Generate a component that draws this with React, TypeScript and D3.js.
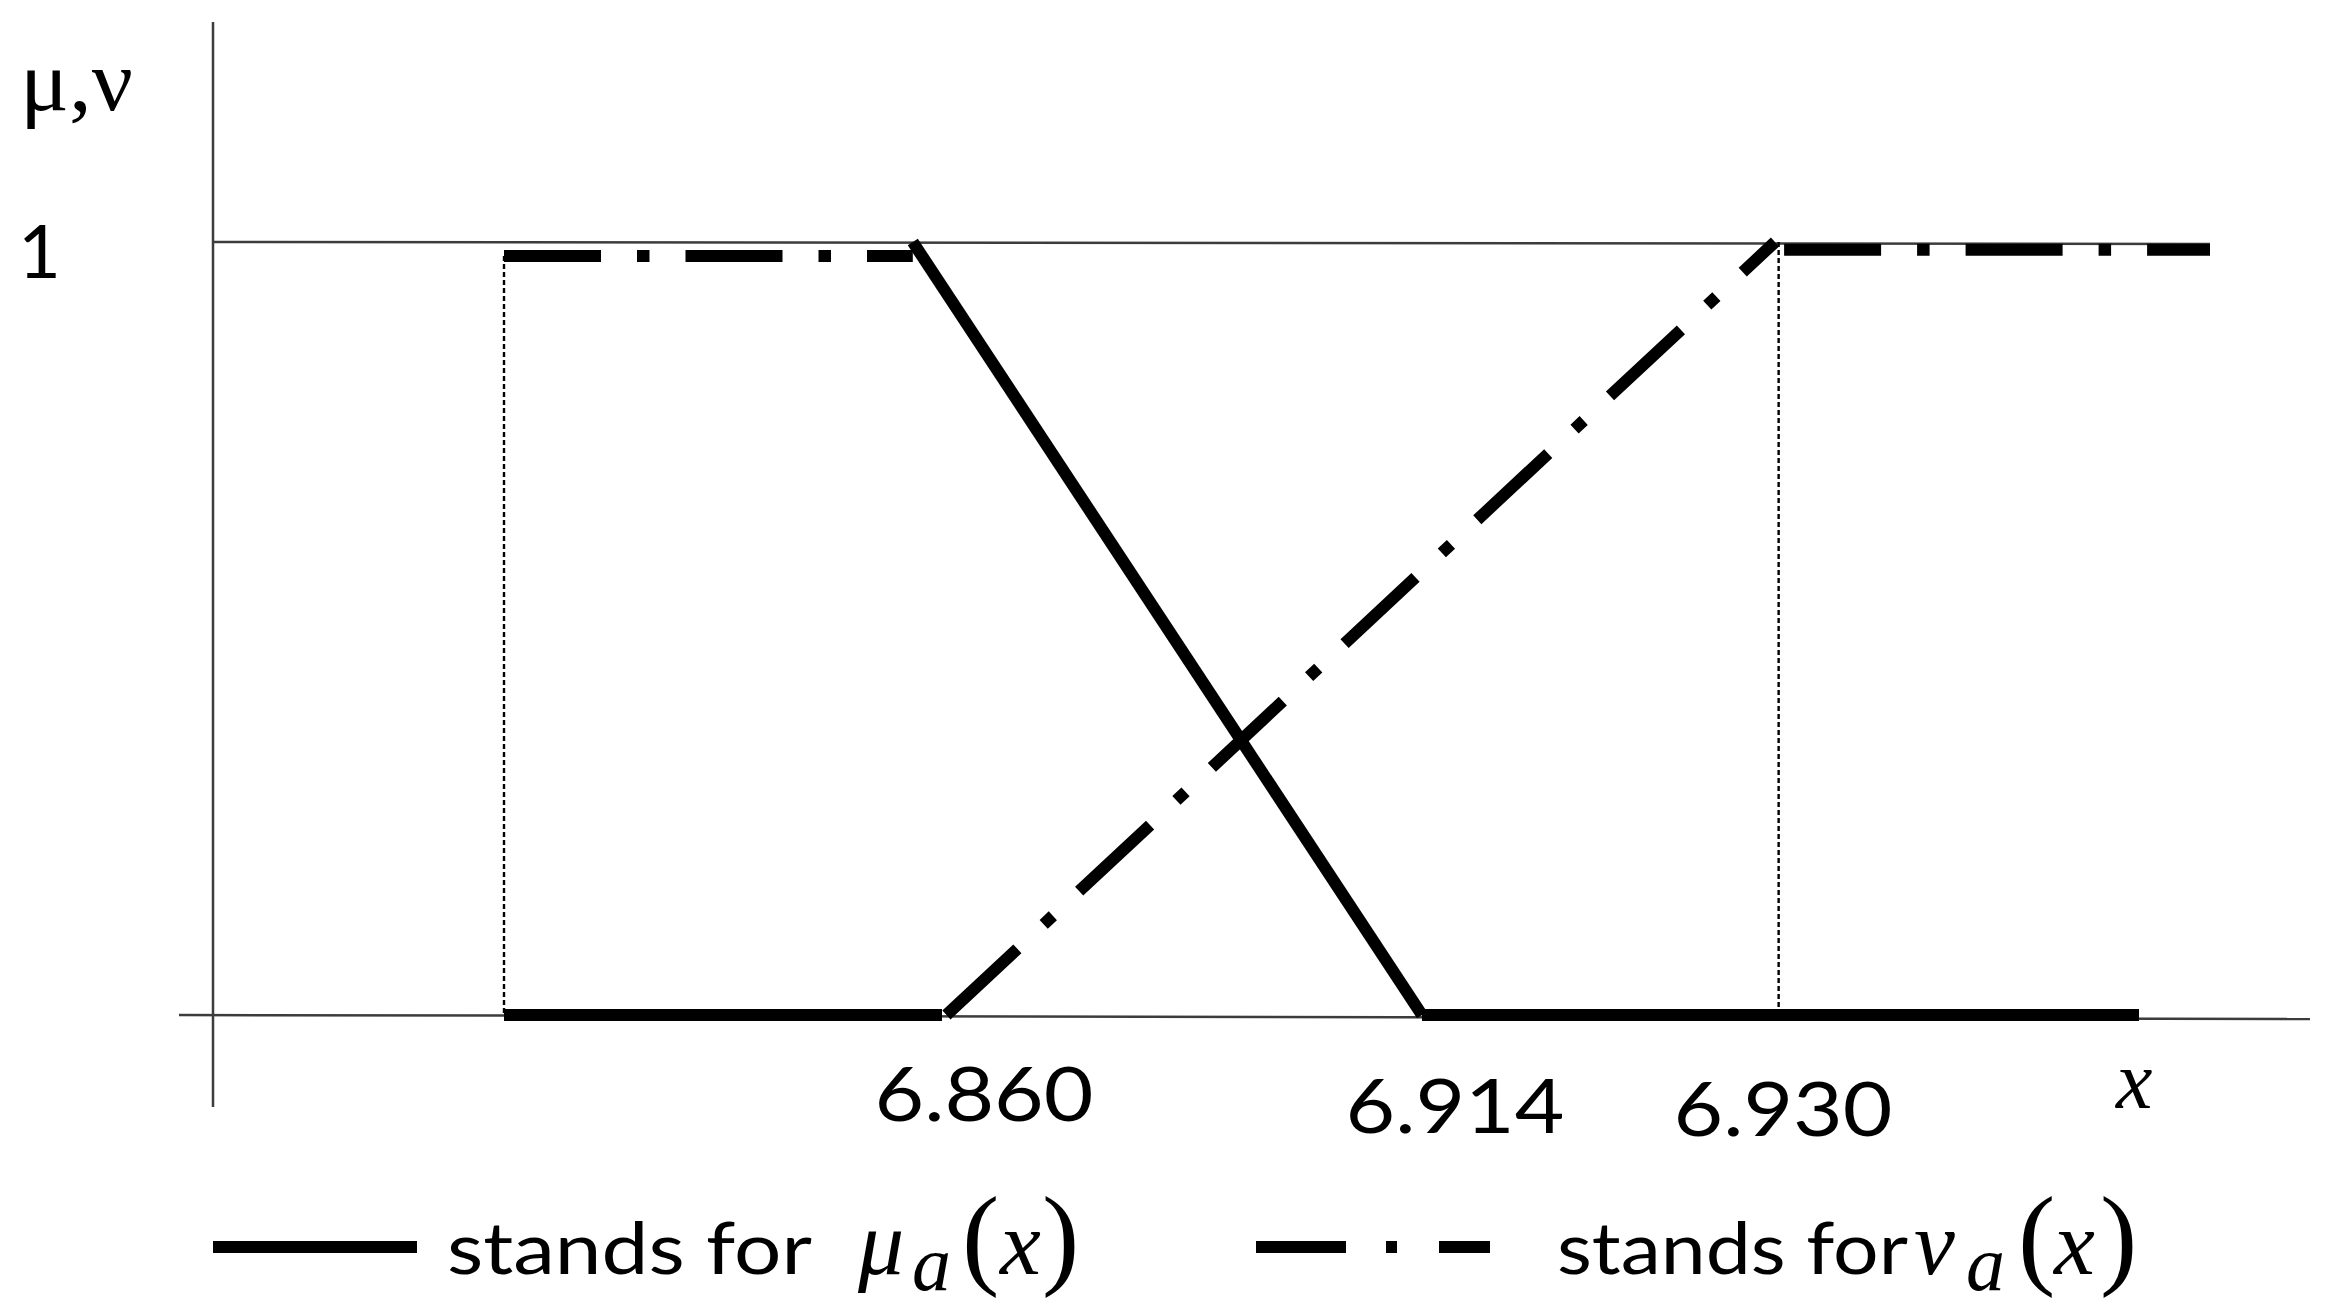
import React from "react";
import * as d3 from "d3";

// ---- data ----
const xBreaks = [6.83, 6.86, 6.914, 6.93, 6.95, 6.955];
const xTicks = [6.86, 6.914, 6.93];
const xTickLabels = ["6.860", "6.914", "6.930"];
// membership mu(x): list of straight segments [x, value]
const muSegments: [number, number][][] = [
  [[6.83, 0], [6.86, 0]],
  [[6.858, 1], [6.914, 0]],
  [[6.914, 0], [6.95, 0]],
];
// non-membership nu(x)
const nuSegments: [number, number][][] = [
  [[6.83, 0.982], [6.858, 0.982]],
  [[6.8605, 0], [6.93, 1]],
  [[6.9305, 0.99], [6.955, 0.99]],
];
// dotted guides
const guideLines: [number, number, number][] = [
  [6.83, 0.982, 0],
  [6.9302, 1, 0],
];
const legendLabels = ["stands for", "stands for"];
const legendSymbols = ["μ", "ν"];

// ---- layout ----
const W = 2337;
const H = 1316;
const xRange = [504, 942, 1422, 1775, 2139, 2210];
const y0 = 1015;
const y1 = 242;
const tickDx = [42, 33, 8];
const tickDy = [106, 118, 121];

function MathLabel({ x0, sym, offs }: { x0: number; sym: string; offs: number[] }) {
  const serif = "'Liberation Serif', 'DejaVu Serif', serif";
  const base = 1274;
  return (
    <g fontFamily={serif}>
      <text x={x0 + offs[0]} y={base} fontStyle="italic" fontSize={92}>{sym}</text>
      <text x={x0 + offs[1]} y={base + 16} fontStyle="italic" fontSize={78}>a</text>
      <text x={x0 + offs[2]} y={base} fontSize={112}>(</text>
      <text x={x0 + offs[3]} y={base} fontStyle="italic" fontSize={92}>x</text>
      <text x={x0 + offs[4]} y={base} fontSize={112}>)</text>
    </g>
  );
}

export default function App() {
  const x = d3.scaleLinear().domain(xBreaks).range(xRange);
  const y = d3.scaleLinear().domain([0, 1]).range([y0, y1]);
  const line = d3
    .line<[number, number]>()
    .x((d) => x(d[0]))
    .y((d) => y(d[1]));

  const dashNu = "97 36 12.5 36";
  const thick = 12;
  const axisColor = "#3c3c3c";
  const sans = "Lato, 'Open Sans', sans-serif";
  const serif = "'Liberation Serif', 'DejaVu Serif', serif";

  return (
    <svg
      width={W}
      height={H}
      style={{ position: "absolute", left: 0, top: 0, background: "#fff" }}
    >
      <rect x={0} y={0} width={W} height={H} fill="#fff" />
      {/* axes */}
      <line x1={213} x2={213} y1={22} y2={1107} stroke={axisColor} strokeWidth={2.5} />
      <line x1={179} x2={2310} y1={y(0)} y2={y(0) + 4} stroke={axisColor} strokeWidth={2.5} />
      <line x1={213} x2={x(6.955)} y1={y(1)} y2={y(1) + 2} stroke={axisColor} strokeWidth={2.5} />

      {/* dotted guides */}
      {guideLines.map((g, i) => (
        <line
          key={"g" + i}
          x1={x(g[0])}
          x2={x(g[0])}
          y1={y(g[1])}
          y2={y(g[2])}
          stroke="#000"
          strokeWidth={2.4}
          strokeDasharray="5 3"
        />
      ))}

      {/* mu */}
      {muSegments.map((s, i) => (
        <path key={"m" + i} d={line(s) || ""} fill="none" stroke="#000" strokeWidth={thick} strokeLinecap="butt" />
      ))}
      {/* nu */}
      {nuSegments.map((s, i) => (
        <path
          key={"n" + i}
          d={line(s) || ""}
          fill="none"
          stroke="#000"
          strokeWidth={thick}
          strokeDasharray={dashNu}
          strokeLinecap="butt"
        />
      ))}

      {/* y labels */}
      <text x={20} y={110} fontFamily={serif} fontSize={86} textLength={113} lengthAdjust="spacingAndGlyphs">
        μ,ν
      </text>
      <text x={18} y={278} fontFamily={sans} fontSize={74}>
        1
      </text>

      {/* x tick labels */}
      {xTicks.map((v, i) => (
        <text
          key={"t" + i}
          x={x(v) + tickDx[i]}
          y={y0 + tickDy[i]}
          textAnchor="middle"
          fontFamily={sans}
          fontSize={76}
          textLength={219}
          lengthAdjust="spacingAndGlyphs"
        >
          {xTickLabels[i]}
        </text>
      ))}
      <text x={2116} y={1108} fontFamily={serif} fontStyle="italic" fontSize={82}>
        x
      </text>

      {/* legend */}
      <line x1={213} x2={417} y1={1247} y2={1247} stroke="#000" strokeWidth={thick} />
      <text x={447} y={1274} fontFamily={sans} fontSize={72} textLength={365} lengthAdjust="spacingAndGlyphs">
        {legendLabels[0]}
      </text>
      <MathLabel x0={858} sym={legendSymbols[0]} offs={[0, 54, 104, 142, 184]} />

      <line
        x1={1256}
        x2={1490}
        y1={1247}
        y2={1247}
        stroke="#000"
        strokeWidth={thick}
        strokeDasharray="90 40 11 42"
      />
      <text x={1557} y={1274} fontFamily={sans} fontSize={72} textLength={351} lengthAdjust="spacingAndGlyphs">
        {legendLabels[1]}
      </text>
      <MathLabel x0={1914} sym={legendSymbols[1]} offs={[0, 52, 104, 140, 186]} />
    </svg>
  );
}
